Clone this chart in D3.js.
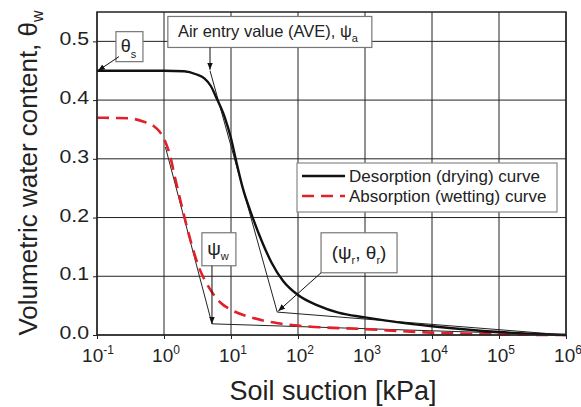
<!DOCTYPE html>
<html><head><meta charset="utf-8">
<script src="https://cdn.jsdelivr.net/npm/d3@7"></script>
<style>body{margin:0;background:#fff}svg{display:block}text{font-family:"Liberation Sans",Arial,sans-serif;fill:#222}</style>
</head><body><svg id="c" width="581" height="407"></svg>
<script>
// ---- data ----
const xTickValues=[0.1,1,10,100,1000,1e4,1e5,1e6];
const xTickExponents=["-1","0","1","2","3","4","5","6"];
const yTickValues=[0,0.1,0.2,0.3,0.4,0.5];
const yTickLabels=["0.0","0.1","0.2","0.3","0.4","0.5"];
const desorptionSuction=[0.1,1,2,3,4,5,6,8,10,12,15,20,30,40,60,100,200,400,1000,3000,1e4,1e5,1e6];
const desorptionTheta=[0.45,0.45,0.449,0.444,0.437,0.424,0.405,0.372,0.335,0.295,0.25,0.207,0.155,0.124,0.092,0.068,0.05,0.038,0.03,0.022,0.015,0.005,0];
const absorptionSuction=[0.1,0.3,0.5,0.7,0.85,1,1.2,1.5,1.8,2.5,3.3,4,5.2,7,10,20,50,100,1000,1e4,1e5,1e6];
const absorptionTheta=[0.37,0.369,0.363,0.356,0.347,0.334,0.31,0.262,0.224,0.16,0.116,0.095,0.073,0.055,0.043,0.03,0.02,0.016,0.01,0.004,0.001,0];
const seriesNames=["Desorption (drying) curve","Absorption (wetting) curve"];
// construction lines (suction, theta)
const aveTangent=[[4.86,0.45],[49,0.039]];
const desorptionResidual=[[49,0.039],[1e6,0]];
const absorptionTangent=[[1.05,0.32],[5.2,0.019]];
const absorptionResidual=[[5.2,0.019],[1e6,0]];

// ---- layout ----
const svg=d3.select("#c");
const m={l:97,r:566,t:12,b:335};
const x=d3.scaleLog().domain([0.1,1e6]).range([m.l,m.r]);
const y=d3.scaleLinear().domain([0,0.55]).range([m.b,m.t]);

const defs=svg.append("defs");
defs.append("marker").attr("id","arr").attr("viewBox","0 0 10 10").attr("refX",10).attr("refY",5)
 .attr("markerWidth",7).attr("markerHeight",7).attr("orient","auto")
 .append("path").attr("d","M0,1 L10,5 L0,9 z").attr("fill","#111");

// grid
const g=svg.append("g");
g.selectAll(".vg").data(xTickValues).join("line")
 .attr("x1",d=>x(d)).attr("x2",d=>x(d)).attr("y1",m.t).attr("y2",m.b)
 .attr("stroke","#222").attr("stroke-width",1);
g.selectAll(".hg").data(yTickValues).join("line")
 .attr("x1",m.l).attr("x2",m.r).attr("y1",d=>y(d)).attr("y2",d=>y(d))
 .attr("stroke","#222").attr("stroke-width",1);

// axes
const xAxis=d3.axisBottom(x).tickValues(xTickValues).tickSize(4).tickFormat("");
const yAxis=d3.axisLeft(y).tickValues(yTickValues).tickSize(4).tickFormat("");
svg.append("g").attr("transform",`translate(0,${m.b})`).call(xAxis).call(s=>s.select(".domain").remove()).selectAll("line").attr("stroke","#222");
svg.append("g").attr("transform",`translate(${m.l},0)`).call(yAxis).call(s=>s.select(".domain").remove()).selectAll("line").attr("stroke","#222");

// tick labels
const xl=svg.append("g");
xTickValues.forEach((v,i)=>{
  const t=xl.append("text").attr("x",x(v)+(i===0?1:2)).attr("y",362).attr("text-anchor","middle").attr("font-size",19);
  t.append("tspan").text("10");
  t.append("tspan").attr("font-size",12).attr("dy",-8).text(xTickExponents[i]);
});
svg.append("g").selectAll("text").data(yTickValues).join("text")
 .attr("x",89).attr("y",d=>y(d)+4).attr("text-anchor","end").attr("font-size",19)
 .attr("transform",d=>`translate(${89*(1-1.12)},0) scale(1.12,1)`)
 .text((d,i)=>yTickLabels[i]);

// axis titles
svg.append("text").attr("x",333).attr("y",400).attr("text-anchor","middle").attr("font-size",27).text("Soil suction [kPa]");
const yt=svg.append("text").attr("transform","translate(37,173) rotate(-90)").attr("text-anchor","middle").attr("font-size",26);
yt.append("tspan").text("Volumetric water content, θ");
yt.append("tspan").attr("font-size",16).attr("dy",6).text("w");

// construction lines
const lineP=d3.line().x(d=>x(d[0])).y(d=>y(d[1]));
[aveTangent,desorptionResidual,absorptionTangent,absorptionResidual].forEach(p=>{
  svg.append("path").attr("d",lineP(p)).attr("fill","none").attr("stroke","#222").attr("stroke-width",1);
});

// curves
const curve=d3.line().x(d=>x(d[0])).y(d=>y(d[1])).curve(d3.curveMonotoneX);
const des=desorptionSuction.map((s,i)=>[s,desorptionTheta[i]]);
const abs=absorptionSuction.map((s,i)=>[s,absorptionTheta[i]]);
svg.append("path").attr("d",curve(abs)).attr("fill","none").attr("stroke","#e0202a").attr("stroke-width",2.6).attr("stroke-dasharray","12,7");
svg.append("path").attr("d",curve(des)).attr("fill","none").attr("stroke","#111").attr("stroke-width",2.4);

// frame
svg.append("rect").attr("x",m.l).attr("y",m.t).attr("width",m.r-m.l).attr("height",m.b-m.t)
 .attr("fill","none").attr("stroke","#222").attr("stroke-width",1.5);

// annotation boxes
function box(cx,cy,w,h){
  const px=x(cx),py=y(cy);
  svg.append("rect").attr("x",px-w/2).attr("y",py-h/2).attr("width",w).attr("height",h)
   .attr("fill","#fff").attr("stroke","#777").attr("stroke-width",1.2);
  return {px,py,left:px-w/2,right:px+w/2,top:py-h/2,bottom:py+h/2};
}
function leader(x1,y1,x2,y2){
  svg.append("line").attr("x1",x1).attr("y1",y1).attr("x2",x2).attr("y2",y2)
   .attr("stroke","#111").attr("stroke-width",1).attr("marker-end","url(#arr)");
}
// theta_s
const bS=box(0.305,0.491,27,30);
let t=svg.append("text").attr("x",bS.px-1).attr("y",bS.py+5).attr("text-anchor","middle").attr("font-size",18);
t.append("tspan").text("θ");t.append("tspan").attr("font-size",11).attr("dy",6).text("s");
leader(bS.left+3,bS.bottom-5,x(0.1)+1,y(0.45));
// AVE
const bA=box(38,0.516,204,31);
t=svg.append("text").attr("x",bA.px-2).attr("y",bA.py+5).attr("text-anchor","middle").attr("font-size",16.5);
t.append("tspan").text("Air entry value (AVE), ψ");t.append("tspan").attr("font-size",11).attr("dy",5).text("a");
leader(x(4.86),bA.bottom,x(4.86),y(0.45)-1);
// psi_w
const bW=box(6.6,0.146,34,33);
t=svg.append("text").attr("x",bW.px-1).attr("y",bW.py+6).attr("text-anchor","middle").attr("font-size",19);
t.append("tspan").text("ψ");t.append("tspan").attr("font-size",11).attr("dy",5).text("w");
leader(x(5.2),bW.bottom,x(5.2),y(0.019));
// psi_r, theta_r
const bR=box(815,0.14,76,40);
t=svg.append("text").attr("x",bR.px).attr("y",bR.py+6).attr("text-anchor","middle").attr("font-size",19);
t.append("tspan").text("(ψ");t.append("tspan").attr("font-size",11).attr("dy",5).text("r");
t.append("tspan").attr("dy",-5).text(", θ");t.append("tspan").attr("font-size",11).attr("dy",5).text("r");
t.append("tspan").attr("dy",-5).text(")");
leader(bR.left,bR.bottom,x(49)+1,y(0.039)-1);

// legend
const lg=svg.append("g");
lg.append("rect").attr("x",297).attr("y",163).attr("width",260).attr("height",49).attr("fill","#fff").attr("stroke","#888").attr("stroke-width",1.2);
const legStyles=[{c:"#111",d:null},{c:"#e0202a",d:"12,7"}];
seriesNames.forEach((n,i)=>{
  const yy=176+i*20;
  lg.append("line").attr("x1",302).attr("x2",345).attr("y1",yy).attr("y2",yy)
   .attr("stroke",legStyles[i].c).attr("stroke-width",2.4).attr("stroke-dasharray",legStyles[i].d);
  lg.append("text").attr("x",349).attr("y",yy+6).attr("font-size",17).text(n);
});
</script></body></html>
